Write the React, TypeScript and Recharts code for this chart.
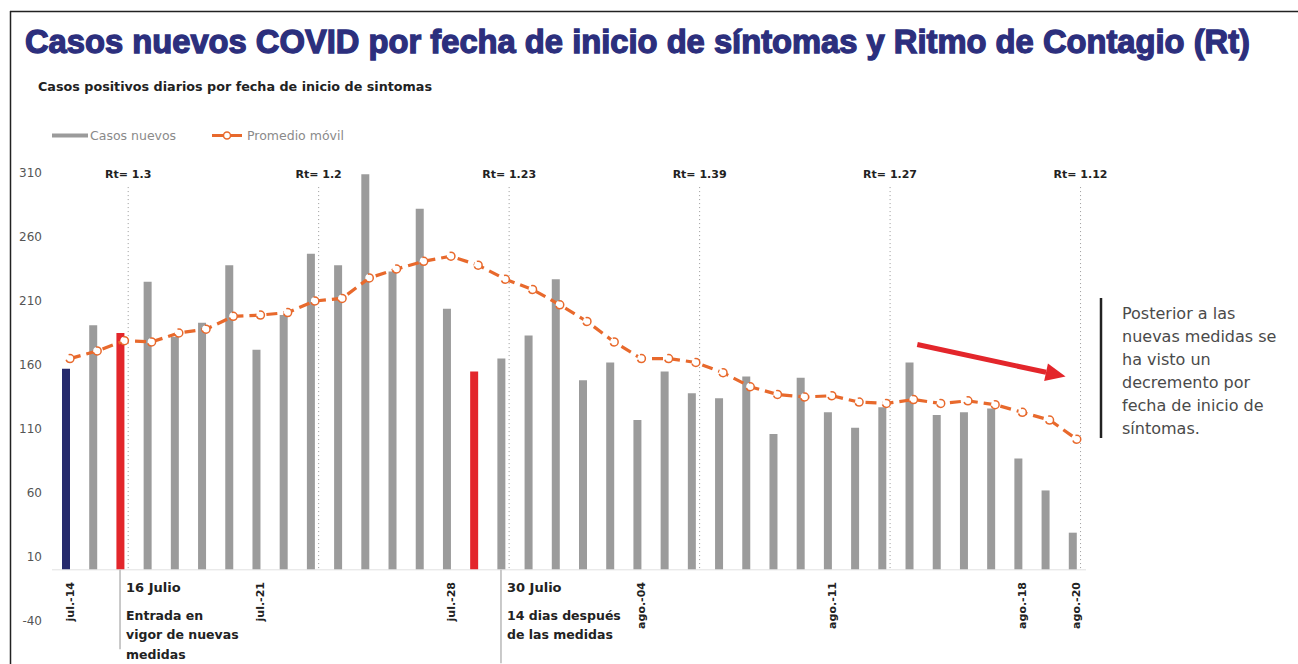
import React from 'react';
import { ComposedChart, Bar, Line, XAxis, YAxis, ReferenceLine, Cell } from 'recharts';

// días del eje (jul.-14 .. ago.-20)
const dias = [
  'jul.-14', 'jul.-15', 'jul.-16', 'jul.-17', 'jul.-18', 'jul.-19', 'jul.-20', 'jul.-21',
  'jul.-22', 'jul.-23', 'jul.-24', 'jul.-25', 'jul.-26', 'jul.-27', 'jul.-28', 'jul.-29',
  'jul.-30', 'jul.-31', 'ago.-01', 'ago.-02', 'ago.-03', 'ago.-04', 'ago.-05', 'ago.-06',
  'ago.-07', 'ago.-08', 'ago.-09', 'ago.-10', 'ago.-11', 'ago.-12', 'ago.-13', 'ago.-14',
  'ago.-15', 'ago.-16', 'ago.-17', 'ago.-18', 'ago.-19', 'ago.-20',
];
const ticksFecha = [0, 7, 14, 21, 28, 35, 37];

const casos = [
  157, 191, 185, 225, 182, 193, 238, 172, 199, 247, 238, 309, 233, 282, 204, 155, 165, 183, 227,
  148, 162, 117, 155, 138, 134, 151, 106, 150, 123, 111, 127, 162, 121, 123, 126, 87, 62, 29,
];
const promedio = [
  165, 171, 179, 178, 185, 188, 198, 199, 201, 210, 212, 228, 235, 241, 245, 238, 227, 219, 207,
  194, 178, 165, 165, 162, 154, 143, 137, 135, 136, 131, 130, 133, 130, 132, 129, 123, 117, 102,
];

const yTicks = [-40, 10, 60, 110, 160, 210, 260, 310];

// Rt semanal
const rtDias = [2, 9, 16, 23, 30, 37];
const rtValores = ['1.3', '1.2', '1.23', '1.39', '1.27', '1.12'];

// barras destacadas
const diaInicio = 0;
const diasMedidas = [2, 15];

const notas = [
  { dia: 2, titulo: '16 Julio', texto: ['Entrada en', 'vigor de nuevas', 'medidas'] },
  { dia: 16, titulo: '30 Julio', texto: ['14 dias después', 'de las medidas'] },
];
const notaDerecha = [
  'Posterior a las',
  'nuevas medidas se',
  'ha visto un',
  'decremento por',
  'fecha de inicio de',
  'síntomas.',
];

const W = 1298;
const H = 664;
const GRIS = '#9b9b9b';
const AZUL = '#262a6c';
const ROJO = '#e3262b';
const NARANJA = '#e8692c';
const TITULO = '#2c2f7d';
const FUENTE = '"DejaVu Sans", sans-serif';

const data = casos.map((c, i) => ({ i, li: i + 0.16, casos: c, promedio: promedio[i] }));

const colorBarra = (i: number) =>
  i === diaInicio ? AZUL : diasMedidas.includes(i) ? ROJO : GRIS;

const TickFecha = (props: any) => {
  const { x, y, payload } = props;
  const px = x + 8;
  const py = y - 39;
  return (
    <text
      x={px}
      y={py}
      transform={`rotate(-90 ${px} ${py})`}
      textAnchor="end"
      fill="#222"
      fontSize={11}
      fontWeight={700}
      fontFamily={FUENTE}
    >
      {dias[payload.value]}
    </text>
  );
};

const NotaFecha = ({ viewBox, titulo, texto }: any) => {
  const x = viewBox.x + 6;
  const y = viewBox.y;
  return (
    <g fontFamily={FUENTE} fontWeight={700} fill="#222">
      <text x={x} y={y + 22} fontSize={13}>{titulo}</text>
      {texto.map((t: string, k: number) => (
        <text key={k} x={x} y={y + 50 + k * 19.5} fontSize={12.5}>{t}</text>
      ))}
    </g>
  );
};

const Flecha = (p: any) => {
  const { x1, y1, x2, y2 } = p;
  const ang = Math.atan2(y2 - y1, x2 - x1);
  const largo = 20;
  const ancho = 9;
  const bx = x2 - largo * Math.cos(ang);
  const by = y2 - largo * Math.sin(ang);
  const nx = -Math.sin(ang);
  const ny = Math.cos(ang);
  return (
    <g>
      <line x1={x1} y1={y1} x2={bx} y2={by} stroke={ROJO} strokeWidth={5} />
      <polygon
        points={`${x2},${y2} ${bx + nx * ancho},${by + ny * ancho} ${bx - nx * ancho},${by - ny * ancho}`}
        fill={ROJO}
      />
    </g>
  );
};

const largoNota = [-62, -73];
const rtTope = 299;

export default function App() {
  return (
    <div style={{ position: 'absolute', left: 0, top: 0, width: W, height: H, background: '#fff', fontFamily: FUENTE }}>
      <ComposedChart width={W} height={H} data={data} margin={{ top: 173, right: 212, bottom: 13, left: 8 }}>
        <XAxis
          type="number"
          dataKey="i"
          domain={[-0.5, 37.5]}
          ticks={ticksFecha}
          interval={0}
          axisLine={false}
          tickLine={false}
          tickSize={0}
          tickMargin={0}
          height={30}
          tick={<TickFecha />}
          allowDataOverflow
        />
        <XAxis xAxisId="linea" type="number" dataKey="li" domain={[-0.5, 37.5]} hide allowDataOverflow />
        <YAxis
          type="number"
          domain={[-40, 310]}
          ticks={yTicks}
          interval={0}
          width={44}
          axisLine={false}
          tickLine={false}
          tickSize={0}
          tickMargin={10}
          tick={{ fill: '#555', fontSize: 12, fontFamily: FUENTE }}
          allowDataOverflow
        />
        <ReferenceLine y={0} stroke="#e2e2e2" />
        {rtDias.map((d, k) => (
          <ReferenceLine
            key={`rt-${k}`}
            segment={[{ x: d + 0.3, y: rtTope }, { x: d + 0.3, y: 0 }]}
            stroke="#9a9a9a"
            strokeDasharray="1 3"
            label={{
              value: `Rt= ${rtValores[k]}`,
              position: 'top',
              offset: 9,
              fill: '#222',
              fontSize: 11,
              fontWeight: 700,
              fontFamily: FUENTE,
            }}
          />
        ))}
        <Bar dataKey="casos" barSize={8} isAnimationActive={false}>
          {data.map((d) => (
            <Cell key={d.i} fill={colorBarra(d.i)} />
          ))}
        </Bar>
        <Line
          xAxisId="linea"
          dataKey="promedio"
          stroke={NARANJA}
          strokeWidth={3.2}
          strokeDasharray="11 6"
          dot={{ r: 4, fill: '#fff', stroke: NARANJA, strokeWidth: 1.5 }}
          isAnimationActive={false}
        />
        {notas.map((n, k) => (
          <ReferenceLine
            key={`nota-${k}`}
            segment={[{ x: n.dia, y: 0 }, { x: n.dia, y: largoNota[k] }]}
            ifOverflow="visible"
            stroke="#b8b8b8"
            strokeWidth={1.5}
            label={(p: any) => <NotaFecha viewBox={p.viewBox} titulo={n.titulo} texto={n.texto} />}
          />
        ))}
        <ReferenceLine segment={[{ x: 31.3, y: 176 }, { x: 36.75, y: 151 }]} shape={Flecha} />
      </ComposedChart>

      <svg width={W} height={H} style={{ position: 'absolute', left: 0, top: 0, pointerEvents: 'none' }}>
        <line x1={10} y1={11.5} x2={W} y2={11.5} stroke="#222" strokeWidth={1.5} />
        <line x1={10.5} y1={11} x2={10.5} y2={H} stroke="#222" strokeWidth={1.5} />
        <text
          x={25}
          y={53}
          fontSize={32.5}
          fontWeight={700}
          fill={TITULO}
          stroke={TITULO}
          strokeWidth={1.3}
          fontFamily='"Liberation Sans", Arial, sans-serif'
          textLength={1225}
          lengthAdjust="spacingAndGlyphs"
        >
          Casos nuevos COVID por fecha de inicio de síntomas y Ritmo de Contagio (Rt)
        </text>
        <text
          x={38}
          y={91}
          fontSize={13}
          fontWeight={700}
          fill="#222"
          fontFamily={FUENTE}
          textLength={394}
          lengthAdjust="spacingAndGlyphs"
        >
          Casos positivos diarios por fecha de inicio de sintomas
        </text>
        <rect x={52} y={133.5} width={36} height={4} fill={GRIS} />
        <text x={90} y={140} fontSize={12.5} fill="#8a8a8a" fontFamily={FUENTE}>Casos nuevos</text>
        <line x1={212} y1={135.5} x2={242} y2={135.5} stroke={NARANJA} strokeWidth={3} />
        <circle cx={227} cy={135.5} r={3.5} fill="#fff" stroke={NARANJA} strokeWidth={1.5} />
        <text x={247} y={140} fontSize={12.5} fill="#8a8a8a" fontFamily={FUENTE}>Promedio móvil</text>
        <line x1={1101} y1={298} x2={1101} y2={438} stroke="#222" strokeWidth={2.5} />
        {notaDerecha.map((t, k) => (
          <text key={k} x={1122} y={318.5 + k * 23} fontSize={16} fill="#4a4a4a" fontFamily={FUENTE}>
            {t}
          </text>
        ))}
      </svg>
    </div>
  );
}
